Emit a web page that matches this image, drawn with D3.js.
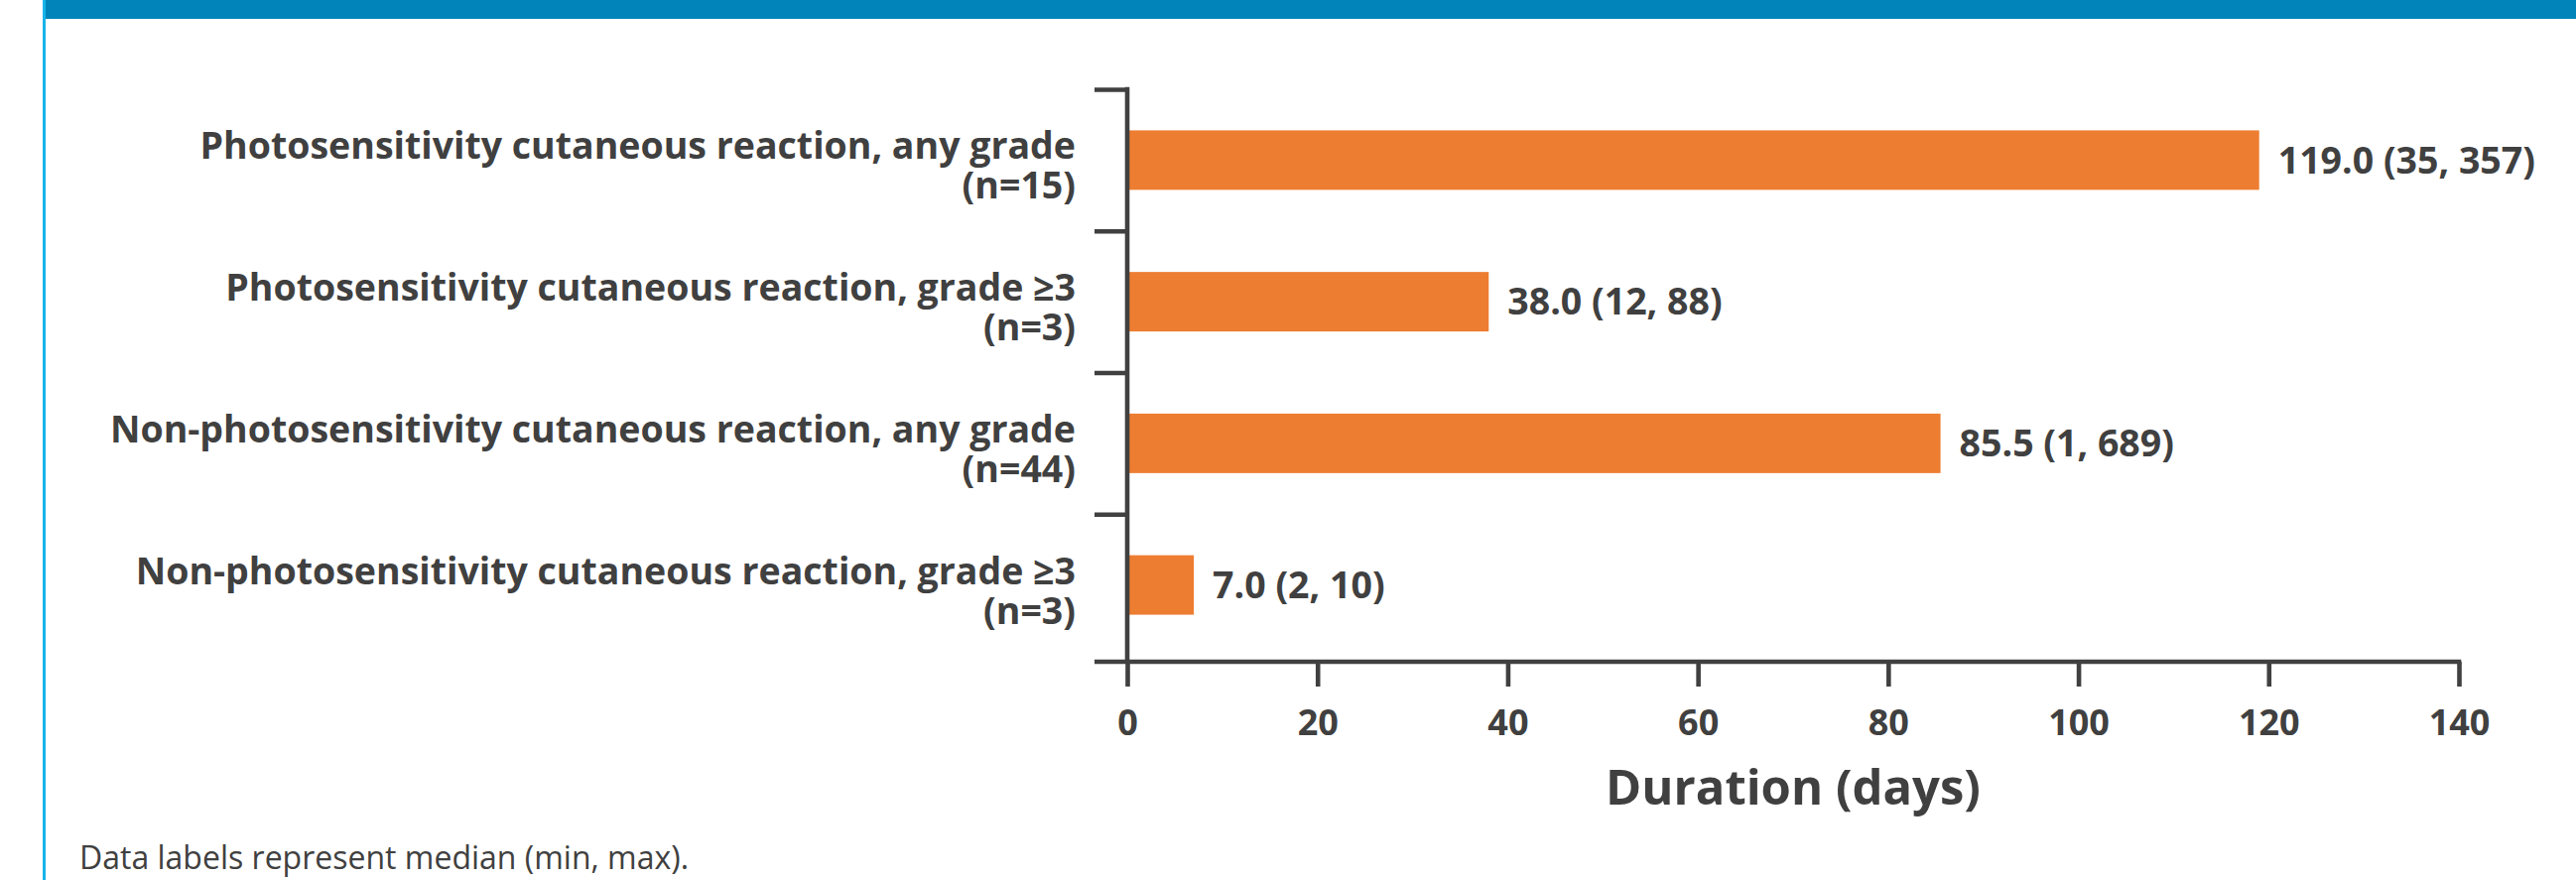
<!DOCTYPE html>
<html lang="en">
<head>
<meta charset="UTF-8">
<title>Cutaneous reaction duration</title>
<script src="https://cdn.jsdelivr.net/npm/d3@7"></script>
<style>
    body { margin: 0; background: #fff; }
    svg { display: block; font-family: "Open Sans", sans-serif; }
</style>
</head>
<body>
<svg width="2596" height="887"></svg>
<script>
    // data
    const categories = [
        ["Photosensitivity cutaneous reaction, any grade", "(n=15)"],
        ["Photosensitivity cutaneous reaction, grade \u22653", "(n=3)"],
        ["Non-photosensitivity cutaneous reaction, any grade", "(n=44)"],
        ["Non-photosensitivity cutaneous reaction, grade \u22653", "(n=3)"]
    ];
    const medians = [119.0, 38.0, 85.5, 7.0];
    const mins = [35, 12, 1, 2];
    const maxs = [357, 88, 689, 10];
    const xTicks = [0, 20, 40, 60, 80, 100, 120, 140];
    const xTitle = "Duration (days)";
    const footnote = "Data labels represent median (min, max).";

    const ink = "#404040";
    const orange = "#ED7D31";

    const svg = d3.select("svg");

    // frame: blue band on top, thin line on the left
    svg.append("rect").attr("x", 44).attr("y", 0).attr("width", 2552).attr("height", 19).attr("fill", "#0084b9");
    svg.append("rect").attr("x", 43).attr("y", 0).attr("width", 3).attr("height", 887).attr("fill", "#18b4ea");

    const x = d3.scaleLinear().domain([0, 140]).range([1136, 2478]);
    const y = d3.scaleBand().domain(d3.range(categories.length)).range([90, 661])
        .paddingInner(0.58).paddingOuter(0.29);
    const yEdge = d3.scaleLinear().domain([0, categories.length]).range([90, 661]);
    const axisY = 667;

    // bars
    svg.append("g").selectAll("rect")
        .data(medians)
        .join("rect")
        .attr("x", x(0))
        .attr("y", (d, i) => y(i))
        .attr("width", d => x(d) - x(0))
        .attr("height", y.bandwidth())
        .attr("fill", orange);

    // value labels
    svg.append("g").selectAll("text")
        .data(medians)
        .join("text")
        .attr("x", d => x(d) + 19)
        .attr("y", (d, i) => y(i) + y.bandwidth() / 2)
        .attr("dy", "0.35em")
        .attr("fill", ink)
        .attr("font-size", 37.5)
        .attr("font-weight", 700)
        .text((d, i) => `${d.toFixed(1)} (${mins[i]}, ${maxs[i]})`);

    // y axis (ticks on category boundaries)
    const gy = svg.append("g")
        .attr("transform", `translate(${x(0)},0)`)
        .call(d3.axisLeft(yEdge).tickValues(d3.range(categories.length)).tickSize(33).tickSizeOuter(0).tickFormat(""));
    gy.select(".domain").remove();
    gy.selectAll(".tick line").attr("stroke", ink).attr("stroke-width", 4.6);
    gy.append("line").attr("x1", 0).attr("x2", 0).attr("y1", 87.7).attr("y2", axisY)
        .attr("stroke", ink).attr("stroke-width", 4.6);

    // category labels, two lines each
    const catG = svg.append("g")
        .attr("text-anchor", "end")
        .attr("fill", ink)
        .attr("font-size", 37.5)
        .attr("font-weight", 700);
    catG.selectAll("text.l1")
        .data(categories)
        .join("text")
        .attr("class", "l1")
        .attr("x", 1084)
        .attr("y", (d, i) => y(i) + y.bandwidth() / 2 - 1)
        .text(d => d[0]);
    catG.selectAll("text.l2")
        .data(categories)
        .join("text")
        .attr("class", "l2")
        .attr("x", 1084)
        .attr("y", (d, i) => y(i) + y.bandwidth() / 2 + 39)
        .text(d => d[1]);

    // x axis
    const gx = svg.append("g")
        .attr("transform", `translate(0,${axisY})`)
        .call(d3.axisBottom(x).tickValues(xTicks).tickSize(25).tickSizeOuter(0).tickPadding(23));
    gx.select(".domain").remove();
    gx.selectAll(".tick line").attr("stroke", ink).attr("stroke-width", 4.6);
    gx.selectAll(".tick text")
        .attr("fill", ink)
        .attr("font-size", 36)
        .attr("font-weight", 700)
        .attr("font-family", "Open Sans, sans-serif");
    gx.append("line").attr("x1", 1103).attr("x2", x(140) + 2.3).attr("y1", 0).attr("y2", 0)
        .attr("stroke", ink).attr("stroke-width", 4.6);

    svg.append("text")
        .attr("x", (x(0) + x(140)) / 2)
        .attr("y", 811)
        .attr("text-anchor", "middle")
        .attr("fill", ink)
        .attr("font-size", 49)
        .attr("font-weight", 700)
        .text(xTitle);

    svg.append("text")
        .attr("x", 80)
        .attr("y", 876)
        .attr("fill", ink)
        .attr("font-size", 32)
        .text(footnote);
</script>
</body>
</html>
